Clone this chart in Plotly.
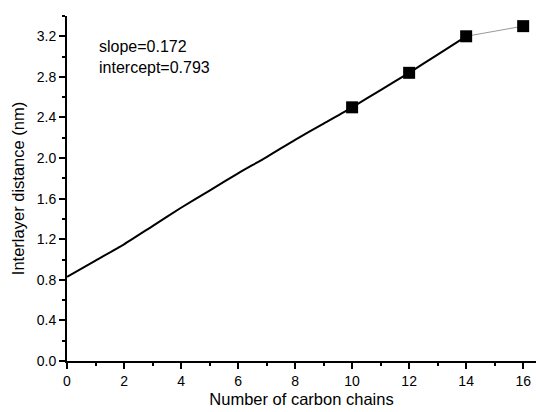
import plotly.graph_objects as go

# fitted line
fit_x = [0, 1, 2, 3, 4, 5, 6, 7, 8, 9, 10, 11, 12, 13, 14]
fit_y = [0.83, 0.99, 1.15, 1.33, 1.51, 1.68, 1.85, 2.01, 2.18, 2.34, 2.50, 2.67, 2.84, 3.02, 3.20]

# measured points
pts_x = [10, 12, 14, 16]
pts_y = [2.50, 2.84, 3.20, 3.30]

slope_txt = "slope=0.172"
intercept_txt = "intercept=0.793"

FONT = "Liberation Sans, Arial"

fig = go.Figure()
fig.add_trace(go.Scatter(x=pts_x[2:], y=pts_y[2:], mode="lines",
                         line=dict(color="#999999", width=1), showlegend=False))
fig.add_trace(go.Scatter(x=fit_x, y=fit_y, mode="lines",
                         line=dict(color="black", width=2, shape="spline", smoothing=0.6),
                         showlegend=False))
fig.add_trace(go.Scatter(x=pts_x, y=pts_y, mode="markers",
                         marker=dict(symbol="square", size=12, color="black"),
                         showlegend=False))

fig.add_annotation(x=0.065, y=0.913, xref="paper", yref="paper", text=slope_txt,
                   showarrow=False, xanchor="left", yanchor="middle",
                   font=dict(size=16, color="black", family=FONT))
fig.add_annotation(x=0.065, y=0.852, xref="paper", yref="paper", text=intercept_txt,
                   showarrow=False, xanchor="left", yanchor="middle",
                   font=dict(size=16, color="black", family=FONT))

axis_common = dict(showline=True, linecolor="black", linewidth=2, mirror=False,
                   ticks="outside", ticklen=6, tickwidth=2, tickcolor="black",
                   showgrid=False, zeroline=False, automargin=False,
                   tickfont=dict(size=14, color="black", family=FONT))

fig.update_layout(
    width=536, height=412,
    margin=dict(l=67, r=0, t=16, b=51),
    plot_bgcolor="white", paper_bgcolor="white",
    xaxis=dict(range=[0, 16.45], tick0=0, dtick=2,
               minor=dict(dtick=1, ticks="outside", ticklen=3, tickwidth=2, tickcolor="black"),
               title=dict(text="Number of carbon chains", standoff=6,
                          font=dict(size=16.5, color="black", family=FONT)),
               **axis_common),
    yaxis=dict(range=[0, 3.4], tick0=0, dtick=0.4, tickformat=".1f",
               minor=dict(dtick=0.2, ticks="outside", ticklen=3, tickwidth=2, tickcolor="black"),
               title=dict(text="Interlayer distance (nm)", standoff=8,
                          font=dict(size=16.5, color="black", family=FONT)),
               **axis_common),
)

fig.write_html("out.html", config={"displayModeBar": False},
               post_script="document.body.style.margin='0px';document.body.style.overflow='hidden';")
